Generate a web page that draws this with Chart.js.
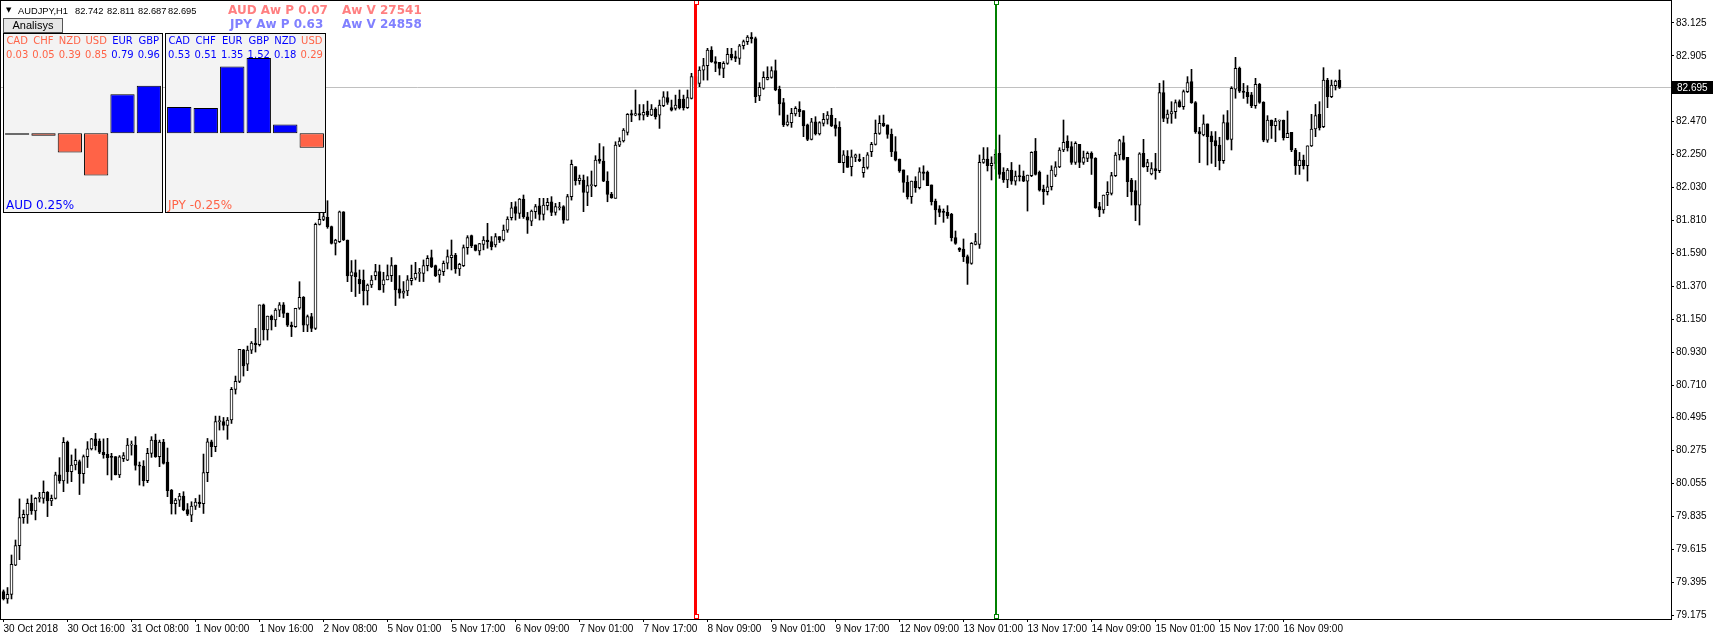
<!DOCTYPE html>
<html>
<head>
<meta charset="utf-8">
<title>AUDJPY,H1</title>
<script src="https://cdn.jsdelivr.net/npm/chart.js"></script>
<style>
  html, body { margin: 0; padding: 0; background: #fff; }
  #wrap { position: relative; width: 1713px; height: 640px; overflow: hidden; font-family: 'Liberation Sans', Arial, sans-serif; }
  #main { position: absolute; left: 0; top: 0; }
  .txt { position: absolute; white-space: nowrap; line-height: 14px; }
  .hdr { font-size: 9.3px; top: 4px; }
  .aw { font-family: 'DejaVu Sans', sans-serif; font-weight: bold; font-size: 12px; }
  .panel { position: absolute; top: 33px; height: 180px; background: #f3f3f3; border: 1px solid #000; box-sizing: border-box; }
  .panel canvas { position: absolute; left: 0; top: 0; }
  .cell { position: absolute; text-align: center; font-family: 'DejaVu Sans', sans-serif; font-size: 10px; line-height: 12px; }
  .foot { position: absolute; left: 2px; top: 164px; font-family: 'DejaVu Sans', sans-serif; font-size: 12px; line-height: 14px; }
  #btn { position: absolute; left: 3px; top: 18px; width: 60px; height: 15px; box-sizing: border-box; border: 1px solid #555; background: #e6e6e6; font-size: 11px; line-height: 13px; text-align: center; }
</style>
</head>
<body>
<div id="wrap">
  <canvas id="main" width="1713" height="640"></canvas>
  <div class="txt" style="left:6px;top:3px;font-family:'DejaVu Sans';font-size:7px;">&#9660;</div>
  <div class="txt hdr" style="left:18px;">AUDJPY,H1</div>
  <div class="txt hdr" style="left:75px;">82.742</div>
  <div class="txt hdr" style="left:107px;">82.811</div>
  <div class="txt hdr" style="left:138px;">82.687</div>
  <div class="txt hdr" style="left:168px;">82.695</div>
  <div id="btn">Analisys</div>
  <div class="txt aw" style="left:228px;top:3px;color:#ff7f80;">AUD Aw P 0.07</div>
  <div class="txt aw" style="left:342px;top:3px;color:#ff7f80;">Aw V 27541</div>
  <div class="txt aw" style="left:230px;top:17px;color:#8080ff;">JPY Aw P 0.63</div>
  <div class="txt aw" style="left:342px;top:17px;color:#8080ff;">Aw V 24858</div>
  <div class="panel" id="panelAud" style="left:3px;width:160px;"><canvas id="audChart" width="158" height="178"></canvas></div>
  <div class="panel" id="panelJpy" style="left:165px;width:161px;"><canvas id="jpyChart" width="159" height="178"></canvas></div>
</div>
<script>
const timeLabels = ['30 Oct 2018', '30 Oct 16:00', '31 Oct 08:00', '1 Nov 00:00', '1 Nov 16:00', '2 Nov 08:00',
  '5 Nov 01:00', '5 Nov 17:00', '6 Nov 09:00', '7 Nov 01:00', '7 Nov 17:00', '8 Nov 09:00', '9 Nov 01:00',
  '9 Nov 17:00', '12 Nov 09:00', '13 Nov 01:00', '13 Nov 17:00', '14 Nov 09:00', '15 Nov 01:00', '15 Nov 17:00',
  '16 Nov 09:00'];
const priceTicks = [83.125, 82.905, 82.470, 82.250, 82.030, 81.810, 81.590, 81.370, 81.150, 80.930, 80.710,
  80.495, 80.275, 80.055, 79.835, 79.615, 79.395, 79.175];

const opens = [
  79.333,79.284,79.315,79.510,79.640,79.826,79.844,79.922,79.871,79.955,
  79.955,79.995,79.937,79.955,80.111,80.071,80.330,80.133,80.177,80.200,
  80.120,80.233,80.284,80.351,80.337,80.262,80.248,80.230,80.233,80.111,
  80.220,80.210,80.310,80.310,80.174,80.170,80.072,80.254,80.343,80.232,
  80.330,80.197,80.010,79.920,79.943,79.970,79.880,79.843,79.903,79.930,
  79.920,80.126,80.332,80.299,80.466,80.466,80.441,80.477,80.681,80.734,
  80.944,80.850,80.943,80.990,80.980,81.244,81.077,81.170,81.144,81.210,
  81.244,81.190,81.110,81.100,81.222,81.295,81.110,81.166,81.088,81.781,
  81.815,81.828,81.766,81.655,81.666,81.864,81.677,81.437,81.460,81.415,
  81.410,81.337,81.377,81.440,81.466,81.377,81.411,81.440,81.510,81.351,
  81.322,81.337,81.406,81.422,81.455,81.455,81.506,81.560,81.506,81.444,
  81.466,81.522,81.560,81.577,81.484,81.506,81.626,81.706,81.644,81.604,
  81.648,81.677,81.666,81.644,81.699,81.677,81.743,81.826,81.899,81.855,
  81.950,81.832,81.803,81.866,81.905,81.848,81.906,81.932,81.861,81.892,
  81.899,81.810,81.966,82.166,82.072,82.077,81.994,82.039,82.039,82.217,
  82.203,82.070,81.981,81.955,82.310,82.337,82.394,82.520,82.510,82.520,
  82.510,82.537,82.510,82.550,82.510,82.572,82.626,82.559,82.554,82.617,
  82.617,82.559,82.621,82.766,82.721,82.810,82.839,82.943,82.866,82.861,
  82.821,82.855,82.915,82.899,82.888,82.972,82.999,83.030,83.020,82.637,
  82.688,82.748,82.761,82.806,82.681,82.593,82.444,82.459,82.517,82.548,
  82.539,82.444,82.348,82.464,82.384,82.455,82.481,82.510,82.444,82.428,
  82.192,82.237,82.166,82.228,82.215,82.126,82.161,82.266,82.315,82.388,
  82.455,82.444,82.381,82.266,82.217,82.144,82.061,81.966,82.070,82.026,
  82.132,82.128,82.044,81.937,81.884,81.866,81.861,81.848,81.693,81.622,
  81.617,81.566,81.521,81.648,81.648,82.195,82.217,82.172,82.188,82.254,
  82.128,82.077,82.143,82.070,82.103,82.103,82.070,82.106,82.270,82.128,
  82.017,81.999,82.032,82.110,82.165,82.277,82.337,82.299,82.195,82.315,
  82.195,82.221,82.254,82.221,81.899,81.877,81.977,81.988,82.106,82.244,
  82.326,82.228,82.077,82.006,81.910,82.255,82.166,82.117,82.153,82.140,
  82.659,82.488,82.517,82.533,82.600,82.566,82.666,82.733,82.593,82.399,
  82.377,82.451,82.371,82.340,82.310,82.206,82.459,82.348,82.682,82.822,
  82.670,82.661,82.644,82.572,82.715,82.594,82.343,82.477,82.439,82.470,
  82.474,82.359,82.394,82.277,82.172,82.210,82.172,82.305,82.417,82.515,
  82.432,82.743,82.632,82.706,82.742];

const highs = [
  79.344,79.360,79.577,79.677,79.951,79.877,79.951,79.977,79.960,79.995,
  80.071,80.000,79.977,80.129,80.226,80.360,80.337,80.244,80.284,80.210,
  80.244,80.333,80.355,80.388,80.351,80.351,80.355,80.255,80.233,80.240,
  80.260,80.354,80.337,80.366,80.197,80.206,80.288,80.366,80.383,80.343,
  80.348,80.290,80.014,79.954,79.988,79.999,79.920,79.932,79.954,79.977,
  80.250,80.354,80.343,80.503,80.503,80.494,80.494,80.694,80.770,80.948,
  80.948,80.970,81.000,81.088,81.244,81.250,81.170,81.177,81.220,81.260,
  81.260,81.190,81.130,81.222,81.399,81.300,81.177,81.188,81.790,81.855,
  81.866,81.939,81.770,81.682,81.870,81.866,81.677,81.540,81.544,81.477,
  81.477,81.384,81.440,81.515,81.510,81.462,81.511,81.560,81.510,81.440,
  81.400,81.440,81.510,81.528,81.488,81.544,81.573,81.610,81.510,81.484,
  81.537,81.611,81.677,81.588,81.522,81.644,81.706,81.710,81.644,81.655,
  81.700,81.788,81.700,81.720,81.700,81.777,81.832,81.928,81.932,81.954,
  81.977,81.861,81.877,81.914,81.955,81.955,81.955,81.966,81.921,81.928,
  81.906,81.981,82.210,82.166,82.110,82.110,82.099,82.137,82.239,82.320,
  82.299,82.132,81.995,82.332,82.359,82.420,82.520,82.543,82.677,82.580,
  82.580,82.603,82.580,82.559,82.610,82.666,82.666,82.610,82.643,82.677,
  82.643,82.677,82.788,82.790,82.832,82.888,82.955,82.966,82.899,82.861,
  82.866,82.955,82.955,82.937,82.981,83.010,83.040,83.060,83.030,82.726,
  82.799,82.832,82.832,82.877,82.703,82.621,82.510,82.555,82.566,82.599,
  82.539,82.450,82.488,82.499,82.466,82.521,82.533,82.555,82.488,82.466,
  82.273,82.273,82.277,82.250,82.250,82.228,82.260,82.328,82.477,82.506,
  82.510,82.444,82.417,82.366,82.217,82.144,82.106,82.070,82.099,82.159,
  82.172,82.137,82.044,81.950,81.906,81.884,81.906,81.855,81.737,81.626,
  81.684,81.577,81.660,81.721,82.244,82.293,82.293,82.232,82.280,82.377,
  82.159,82.154,82.194,82.137,82.177,82.137,82.110,82.265,82.354,82.137,
  82.043,82.110,82.172,82.199,82.292,82.477,82.372,82.332,82.332,82.315,
  82.270,82.265,82.265,82.226,81.928,81.977,82.066,82.128,82.260,82.348,
  82.370,82.228,82.088,82.073,82.259,82.348,82.215,82.193,82.255,82.722,
  82.739,82.544,82.599,82.611,82.611,82.677,82.766,82.815,82.600,82.428,
  82.511,82.451,82.400,82.400,82.362,82.511,82.540,82.699,82.895,82.830,
  82.721,82.706,82.661,82.755,82.721,82.599,82.506,82.477,82.488,82.477,
  82.477,82.537,82.394,82.288,82.261,82.243,82.305,82.515,82.581,82.599,
  82.826,82.755,82.743,82.743,82.811];

const lows = [
  79.277,79.255,79.284,79.506,79.546,79.788,79.788,79.848,79.811,79.930,
  79.922,79.833,79.906,79.950,80.055,79.999,80.055,80.066,80.144,79.980,
  80.055,80.160,80.277,80.277,80.253,80.222,80.111,80.077,80.111,80.093,
  80.200,80.206,80.243,80.143,80.043,80.037,80.059,80.228,80.228,80.166,
  80.183,79.966,79.850,79.850,79.900,79.872,79.840,79.799,79.880,79.894,
  79.854,80.066,80.232,80.266,80.410,80.410,80.348,80.454,80.650,80.726,
  80.770,80.806,80.920,80.930,80.970,81.010,81.010,81.077,81.100,81.166,
  81.160,81.100,81.033,81.095,81.215,81.066,81.066,81.066,81.080,81.777,
  81.806,81.755,81.650,81.577,81.660,81.673,81.399,81.333,81.300,81.320,
  81.244,81.244,81.360,81.411,81.344,81.328,81.411,81.400,81.240,81.289,
  81.289,81.306,81.377,81.411,81.400,81.400,81.471,81.493,81.433,81.395,
  81.440,81.484,81.477,81.455,81.440,81.500,81.582,81.626,81.604,81.577,
  81.611,81.622,81.611,81.630,81.660,81.670,81.728,81.810,81.810,81.821,
  81.821,81.721,81.772,81.821,81.810,81.810,81.877,81.839,81.843,81.877,
  81.788,81.810,81.943,82.043,82.048,81.866,81.906,81.966,82.032,82.188,
  82.066,81.932,81.955,81.955,82.299,82.330,82.377,82.466,82.505,82.477,
  82.477,82.499,82.506,82.483,82.421,82.566,82.581,82.537,82.543,82.550,
  82.543,82.554,82.617,82.690,82.699,82.743,82.743,82.861,82.799,82.777,
  82.759,82.848,82.877,82.866,82.848,82.950,82.980,82.990,82.593,82.606,
  82.681,82.744,82.755,82.672,82.510,82.433,82.437,82.428,82.504,82.499,
  82.366,82.339,82.344,82.377,82.377,82.437,82.450,82.433,82.370,82.192,
  82.126,82.161,82.104,82.199,82.199,82.095,82.150,82.233,82.310,82.381,
  82.433,82.355,82.233,82.204,82.128,81.995,81.950,81.921,81.995,82.017,
  82.077,82.039,81.910,81.781,81.832,81.795,81.821,81.670,81.648,81.599,
  81.533,81.381,81.515,81.644,81.621,82.188,82.137,82.077,82.150,82.088,
  82.061,82.026,82.048,82.043,82.070,82.066,81.870,82.099,82.110,82.003,
  81.914,81.977,82.010,82.099,82.159,82.266,82.270,82.181,82.181,82.159,
  82.181,82.199,82.114,81.888,81.832,81.855,81.906,81.977,82.100,82.210,
  82.210,81.966,81.910,81.806,81.777,82.162,82.133,82.111,82.082,82.126,
  82.466,82.455,82.455,82.488,82.562,82.548,82.660,82.588,82.388,82.193,
  82.371,82.177,82.188,82.166,82.144,82.188,82.344,82.277,82.622,82.660,
  82.621,82.588,82.559,82.555,82.588,82.332,82.328,82.354,82.332,82.410,
  82.343,82.359,82.266,82.114,82.114,82.150,82.070,82.300,82.366,82.410,
  82.426,82.559,82.626,82.677,82.687];

const closes = [
  79.284,79.315,79.515,79.640,79.826,79.848,79.922,79.871,79.955,79.960,
  79.995,79.937,79.955,80.111,80.071,80.328,80.133,80.177,80.208,80.120,
  80.233,80.284,80.351,80.306,80.262,80.244,80.226,80.228,80.111,80.231,
  80.240,80.310,80.312,80.174,80.170,80.072,80.254,80.343,80.232,80.330,
  80.188,80.006,79.920,79.943,79.970,79.877,79.850,79.903,79.930,79.920,
  80.126,80.332,80.299,80.466,80.468,80.441,80.477,80.681,80.734,80.948,
  80.837,80.943,80.990,80.980,81.244,81.077,81.170,81.144,81.210,81.244,
  81.188,81.110,81.100,81.222,81.295,81.110,81.166,81.088,81.781,81.815,
  81.833,81.766,81.655,81.677,81.864,81.677,81.437,81.464,81.433,81.384,
  81.337,81.377,81.410,81.466,81.344,81.411,81.440,81.506,81.344,81.322,
  81.337,81.411,81.422,81.455,81.460,81.506,81.555,81.500,81.440,81.477,
  81.522,81.566,81.577,81.484,81.515,81.626,81.693,81.640,81.608,81.653,
  81.677,81.666,81.633,81.700,81.677,81.743,81.817,81.892,81.855,81.950,
  81.832,81.810,81.870,81.899,81.848,81.910,81.928,81.861,81.899,81.893,
  81.810,81.966,82.181,82.072,82.090,81.994,82.039,82.040,82.210,82.203,
  82.070,81.981,81.959,82.310,82.337,82.410,82.514,82.510,82.520,82.510,
  82.528,82.510,82.550,82.499,82.577,82.632,82.594,82.543,82.577,82.559,
  82.559,82.626,82.766,82.710,82.810,82.839,82.943,82.866,82.855,82.821,
  82.855,82.915,82.892,82.888,82.972,82.999,83.030,83.020,82.633,82.695,
  82.761,82.761,82.806,82.677,82.584,82.444,82.464,82.521,82.555,82.533,
  82.437,82.348,82.464,82.384,82.459,82.481,82.510,82.437,82.421,82.192,
  82.244,82.161,82.232,82.244,82.206,82.161,82.244,82.315,82.388,82.455,
  82.439,82.381,82.266,82.210,82.137,82.061,81.966,82.070,82.026,82.132,
  82.121,82.039,81.933,81.877,81.861,81.861,81.839,81.693,81.655,81.610,
  81.566,81.521,81.655,81.666,82.195,82.217,82.172,82.188,82.248,82.114,
  82.077,82.143,82.070,82.103,82.099,82.070,82.110,82.261,82.114,82.010,
  81.999,82.032,82.143,82.165,82.277,82.328,82.292,82.195,82.321,82.195,
  82.226,82.254,82.221,81.892,81.877,81.977,81.995,82.106,82.243,82.340,
  82.215,82.066,82.000,81.910,82.251,82.166,82.193,82.153,82.140,82.659,
  82.488,82.517,82.533,82.593,82.566,82.666,82.726,82.593,82.399,82.384,
  82.451,82.366,82.333,82.304,82.206,82.459,82.348,82.688,82.822,82.670,
  82.661,82.632,82.572,82.715,82.594,82.343,82.477,82.439,82.470,82.471,
  82.359,82.388,82.277,82.172,82.210,82.172,82.305,82.417,82.506,82.426,
  82.743,82.632,82.710,82.737,82.695];

const bidPrice = 82.695;
const redLineBar = 173;
const greenLineBar = 248;

// panneaux "Analisys"
const audCurrencies = ['CAD', 'CHF', 'NZD', 'USD', 'EUR', 'GBP'];
const audValues = [-0.03, -0.05, -0.39, -0.85, 0.79, 0.96];
const jpyCurrencies = ['CAD', 'CHF', 'EUR', 'GBP', 'NZD', 'USD'];
const jpyValues = [0.53, 0.51, 1.35, 1.52, 0.18, -0.29];

const BLUE = '#0000ff';
const TOMATO = '#ff6347';
const AXIS_FONT = { family: 'Liberation Sans', size: 10 };

// échelle : 4 px par bougie, 150 px par yen
const X_MIN = -0.875;
const X_MAX = X_MIN + 1671 / 4;
const Y_MAX = 83.277;
const Y_MIN = Y_MAX - 619 / 150;

const mt4Plugin = {
    id: 'mt4',
    beforeDatasetsDraw(chart) {
        const { ctx, chartArea, scales: { y } } = chart;
        const py = Math.round(y.getPixelForValue(bidPrice)) + 0.5;
        ctx.save();
        ctx.strokeStyle = '#c0c0c0';
        ctx.lineWidth = 1;
        ctx.beginPath();
        ctx.moveTo(chartArea.left, py);
        ctx.lineTo(chartArea.right, py);
        ctx.stroke();
        ctx.restore();
    },
    afterDatasetsDraw(chart) {
        const { ctx, chartArea, scales: { x } } = chart;
        const drawVLine = (bar, color, width) => {
            const px = x.getPixelForValue(bar);
            ctx.save();
            ctx.fillStyle = color;
            ctx.fillRect(Math.round(px - width / 2), chartArea.top + 2, width, chartArea.bottom - chartArea.top - 4);
            // petites poignées aux extrémités
            ctx.strokeStyle = color;
            ctx.fillStyle = '#fff';
            [chartArea.top + 2, chartArea.bottom - 3].forEach(yy => {
                ctx.fillRect(Math.round(px) - 2, yy - 2, 5, 5);
                ctx.strokeRect(Math.round(px) - 1.5, yy - 1.5, 4, 4);
            });
            ctx.restore();
        };
        drawVLine(redLineBar, '#ff0000', 3);
        drawVLine(greenLineBar, '#008000', 2);
    },
    afterDraw(chart) {
        const { ctx, chartArea, scales: { y } } = chart;
        ctx.save();
        ctx.strokeStyle = '#000';
        ctx.lineWidth = 1;
        ctx.strokeRect(0.5, 0.5, chartArea.right, chartArea.bottom);
        // étiquette du prix courant
        const py = Math.round(y.getPixelForValue(bidPrice));
        ctx.fillStyle = '#000';
        ctx.fillRect(chartArea.right + 1, py - 6, chart.width - chartArea.right - 1, 13);
        ctx.fillStyle = '#fff';
        ctx.font = '10px "Liberation Sans"';
        ctx.textBaseline = 'middle';
        ctx.fillText(bidPrice.toFixed(3), chartArea.right + 6, py + 1);
        ctx.restore();
    }
};

function buildMainChart() {
    const ctx = document.getElementById('main').getContext('2d');
    const bodies = opens.map((o, i) => ({ x: i, y: [o, closes[i]] }));
    const wicks = highs.map((h, i) => ({ x: i, y: [lows[i], h] }));
    const bodyColors = opens.map((o, i) => closes[i] >= o ? '#ffffff' : '#000000');

    return new Chart(ctx, {
        type: 'bar',
        data: {
            datasets: [
                {
                    label: 'Corps',
                    data: bodies,
                    backgroundColor: bodyColors,
                    borderColor: '#000',
                    borderWidth: 1,
                    borderSkipped: false,
                    barThickness: 3,
                    minBarLength: 1,
                    grouped: false,
                    order: 0
                },
                {
                    label: 'Mèches',
                    data: wicks,
                    backgroundColor: '#000',
                    borderWidth: 0,
                    barThickness: 1,
                    grouped: false,
                    order: 1
                }
            ]
        },
        options: {
            responsive: false,
            animation: false,
            devicePixelRatio: 1,
            layout: { padding: 0 },
            plugins: { legend: { display: false }, tooltip: { enabled: false } },
            scales: {
                x: {
                    type: 'linear',
                    min: X_MIN,
                    max: X_MAX,
                    offset: false,
                    grid: { drawOnChartArea: false, offset: false, tickLength: 3, color: '#000' },
                    border: { display: false },
                    ticks: {
                        autoSkip: false,
                        maxRotation: 0,
                        minRotation: 0,
                        align: 'start',
                        padding: 1,
                        color: '#000',
                        font: AXIS_FONT,
                        callback: v => timeLabels[Math.round(v / 16)]
                    },
                    afterBuildTicks: s => { s.ticks = timeLabels.map((t, k) => ({ value: k * 16 })); },
                    afterFit: s => { s.height = 21; s.paddingLeft = 0; s.paddingRight = 0; }
                },
                y: {
                    position: 'right',
                    min: Y_MIN,
                    max: Y_MAX,
                    grid: { drawOnChartArea: false, tickLength: 3, color: '#000' },
                    border: { display: false },
                    ticks: {
                        padding: 2,
                        color: '#000',
                        font: AXIS_FONT,
                        callback: v => v.toFixed(3)
                    },
                    afterBuildTicks: s => { s.ticks = priceTicks.map(v => ({ value: v })); },
                    afterFit: s => { s.width = 42; s.paddingTop = 0; s.paddingBottom = 0; }
                }
            }
        },
        plugins: [mt4Plugin]
    });
}

function buildPanel(panelId, canvasId, currencies, values, footText, footColor) {
    const panel = document.getElementById(panelId);
    const canvas = document.getElementById(canvasId);
    const slot = canvas.width / currencies.length;
    currencies.forEach((cur, k) => {
        const color = values[k] >= 0 ? BLUE : TOMATO;
        const name = document.createElement('div');
        name.className = 'cell';
        name.style.cssText = `left:${k * slot}px;width:${slot}px;top:1px;color:${color}`;
        name.textContent = cur;
        panel.appendChild(name);
        const val = document.createElement('div');
        val.className = 'cell';
        val.style.cssText = `left:${k * slot}px;width:${slot}px;top:15px;color:${color}`;
        val.textContent = Math.abs(values[k]).toFixed(2);
        panel.appendChild(val);
    });
    const foot = document.createElement('div');
    foot.className = 'foot';
    foot.style.color = footColor;
    foot.textContent = footText;
    panel.appendChild(foot);

    return new Chart(canvas.getContext('2d'), {
        type: 'bar',
        data: {
            labels: currencies,
            datasets: [{
                data: values,
                backgroundColor: values.map(v => v >= 0 ? BLUE : TOMATO),
                borderColor: '#000',
                borderWidth: 1,
                borderSkipped: false,
                barPercentage: 0.92,
                categoryPercentage: 1
            }]
        },
        options: {
            responsive: false,
            animation: false,
            devicePixelRatio: 1,
            layout: { padding: 0 },
            plugins: { legend: { display: false }, tooltip: { enabled: false } },
            scales: {
                x: { display: false },
                y: { display: false, min: -78.7 / 49.5, max: 99.3 / 49.5 }
            }
        }
    });
}

buildMainChart();
buildPanel('panelAud', 'audChart', audCurrencies, audValues, 'AUD 0.25%', BLUE);
buildPanel('panelJpy', 'jpyChart', jpyCurrencies, jpyValues, 'JPY -0.25%', TOMATO);
</script>
</body>
</html>
